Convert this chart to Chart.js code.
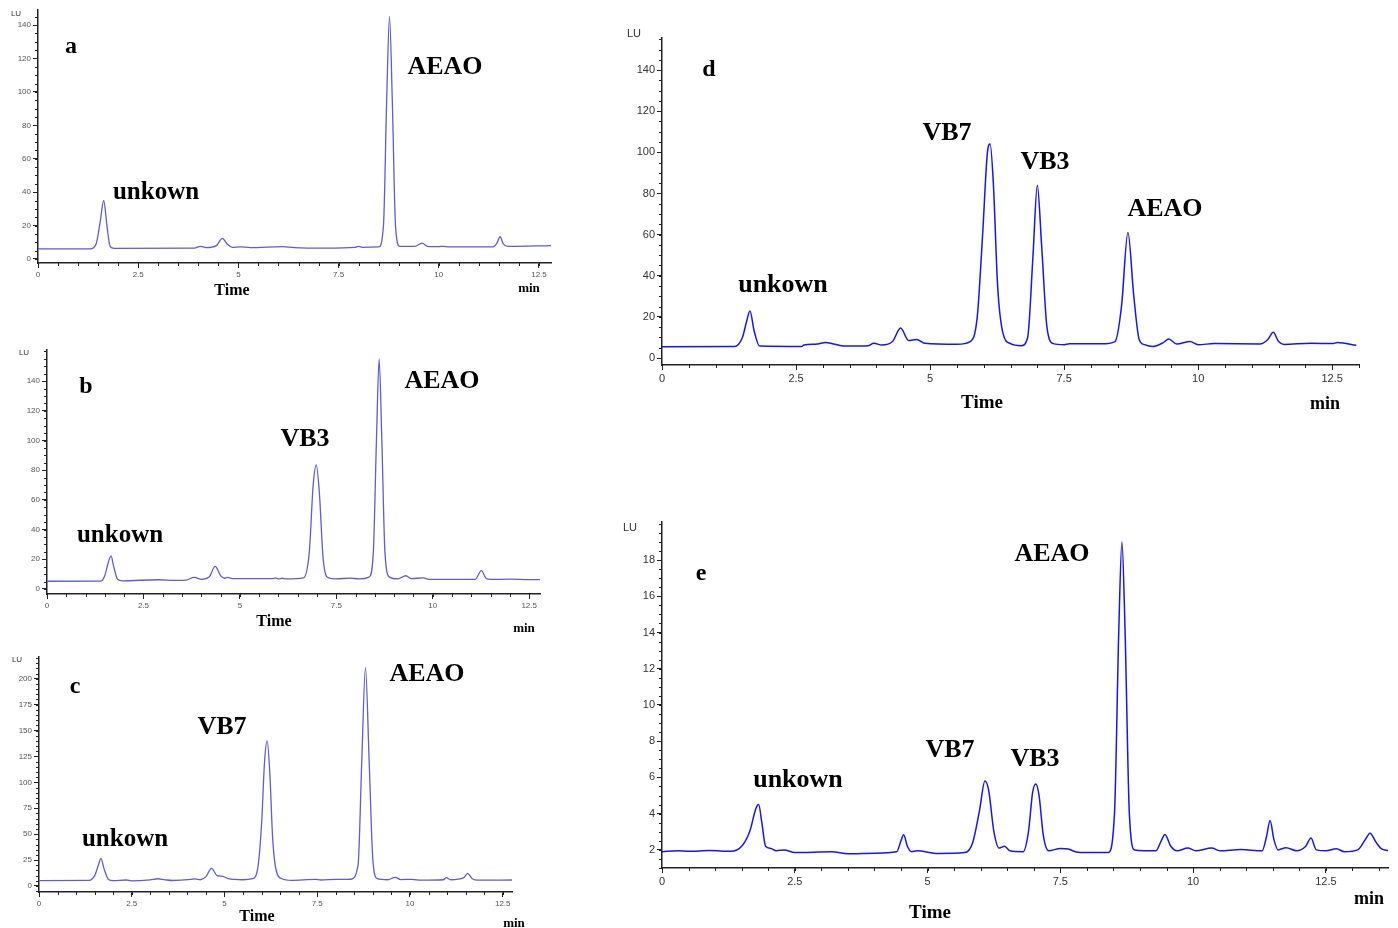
<!DOCTYPE html>
<html>
<head>
<meta charset="utf-8">
<script src="https://cdn.jsdelivr.net/npm/chart.js@4.4.0/dist/chart.umd.min.js"></script>
<style>
body{margin:0;background:#fff;width:1398px;height:928px;position:relative;overflow:hidden}
canvas{position:absolute}
.lbl{position:absolute;transform:translate(-50%,-50%);font-family:'Liberation Serif','Times New Roman',serif;font-weight:bold;white-space:nowrap;line-height:1;color:#000}
.lu{position:absolute;transform:translate(-50%,-50%);font-family:'Liberation Sans',Arial,sans-serif;line-height:1;color:#333}
</style>
</head>
<body>
<canvas id="chartA" width="560" height="300" style="left:0;top:0"></canvas>
<canvas id="chartB" width="560" height="300" style="left:0;top:330px"></canvas>
<canvas id="chartC" width="540" height="288" style="left:0;top:640px"></canvas>
<canvas id="chartD" width="798" height="400" style="left:600px;top:20px"></canvas>
<canvas id="chartE" width="798" height="428" style="left:600px;top:500px"></canvas>

<!-- panel a -->
<div class="lu" style="left:16px;top:14px;font-size:8px">LU</div>
<div class="lbl" style="left:71px;top:45px;font-size:24px">a</div>
<div class="lbl" style="left:156px;top:190px;font-size:25px">unkown</div>
<div class="lbl" style="left:445px;top:66px;font-size:26px">AEAO</div>
<div class="lbl" style="left:232px;top:290px;font-size:16px">Time</div>
<div class="lbl" style="left:529px;top:287px;font-size:13px">min</div>
<!-- panel b -->
<div class="lu" style="left:24px;top:353px;font-size:8px">LU</div>
<div class="lbl" style="left:86px;top:385px;font-size:24px">b</div>
<div class="lbl" style="left:120px;top:533px;font-size:25px">unkown</div>
<div class="lbl" style="left:305px;top:438px;font-size:26px">VB3</div>
<div class="lbl" style="left:442px;top:380px;font-size:26px">AEAO</div>
<div class="lbl" style="left:274px;top:621px;font-size:16px">Time</div>
<div class="lbl" style="left:524px;top:627px;font-size:13px">min</div>
<!-- panel c -->
<div class="lu" style="left:17px;top:660px;font-size:8px">LU</div>
<div class="lbl" style="left:75px;top:685px;font-size:24px">c</div>
<div class="lbl" style="left:125px;top:837px;font-size:25px">unkown</div>
<div class="lbl" style="left:222px;top:726px;font-size:26px">VB7</div>
<div class="lbl" style="left:427px;top:673px;font-size:26px">AEAO</div>
<div class="lbl" style="left:257px;top:916px;font-size:16px">Time</div>
<div class="lbl" style="left:514px;top:922px;font-size:13px">min</div>
<!-- panel d -->
<div class="lu" style="left:634px;top:33px;font-size:11px">LU</div>
<div class="lbl" style="left:709px;top:68px;font-size:24px">d</div>
<div class="lbl" style="left:783px;top:284px;font-size:26px">unkown</div>
<div class="lbl" style="left:947px;top:132px;font-size:26px">VB7</div>
<div class="lbl" style="left:1045px;top:161px;font-size:26px">VB3</div>
<div class="lbl" style="left:1165px;top:208px;font-size:26px">AEAO</div>
<div class="lbl" style="left:982px;top:401px;font-size:19px">Time</div>
<div class="lbl" style="left:1325px;top:403px;font-size:18px">min</div>
<!-- panel e -->
<div class="lu" style="left:630px;top:527px;font-size:11px">LU</div>
<div class="lbl" style="left:701px;top:572px;font-size:24px">e</div>
<div class="lbl" style="left:798px;top:779px;font-size:26px">unkown</div>
<div class="lbl" style="left:950px;top:749px;font-size:26px">VB7</div>
<div class="lbl" style="left:1035px;top:758px;font-size:26px">VB3</div>
<div class="lbl" style="left:1052px;top:553px;font-size:26px">AEAO</div>
<div class="lbl" style="left:930px;top:911px;font-size:19px">Time</div>
<div class="lbl" style="left:1369px;top:898px;font-size:18px">min</div>

<script>
// retention time (min) and fluorescence signal (LU)
const timeA = [0, 1.3, 1.45, 1.55, 1.64, 1.72, 1.8, 1.9, 3.9, 4.05, 4.2, 4.45, 4.6, 4.72, 4.85, 5.05, 5.3, 6.1, 6.4, 7.2, 7.9, 8.0, 8.1, 8.5, 8.62, 8.7, 8.77, 8.84, 8.92, 9.02, 9.4, 9.58, 9.72, 10.0, 10.12, 10.25, 11.35, 11.45, 11.53, 11.61, 11.72, 12.8]
const signalA = [6, 6.1, 9, 22, 35, 20, 7.5, 6.3, 6.5, 7.6, 6.8, 8, 12.3, 9, 7, 7.3, 6.8, 7.4, 6.8, 6.5, 6.9, 7.5, 7, 7.2, 20, 95, 145, 95, 20, 7.6, 7.5, 9.5, 7.6, 7.4, 7.6, 7.2, 7.3, 9.5, 13.3, 9, 7.5, 8]

const timeB = [0, 1.4, 1.5, 1.58, 1.66, 1.73, 1.83, 1.95, 2.9, 3.3, 3.6, 3.82, 4.0, 4.2, 4.36, 4.5, 4.6, 4.68, 4.8, 5.85, 5.92, 6.0, 6.1, 6.2, 6.65, 6.8, 6.9, 6.98, 7.06, 7.16, 7.3, 7.5, 7.85, 8.1, 8.35, 8.46, 8.54, 8.61, 8.68, 8.76, 8.88, 9.1, 9.3, 9.45, 9.75, 9.9, 10.2, 11.1, 11.26, 11.38, 11.5, 12.0, 12.5, 12.78]
const signalB = [5.2, 5.3, 9, 17, 22.3, 15, 6.5, 5.5, 6.2, 5.8, 6, 7.8, 6.5, 8, 15.2, 9, 7.2, 7.8, 7, 7, 7.4, 6.8, 7.2, 6.8, 7.5, 25, 70, 83.5, 65, 20, 7.5, 6.8, 7.3, 6.8, 8, 25, 100, 155, 100, 25, 8, 6.8, 8.9, 7, 7.4, 6.5, 6.4, 6.5, 12.3, 7.2, 6.4, 6.6, 6.3, 6.3]

const timeC = [0, 1.35, 1.5, 1.6, 1.67, 1.75, 1.88, 2.0, 2.35, 2.5, 3.0, 3.2, 3.4, 3.6, 4.1, 4.2, 4.35, 4.5, 4.65, 4.8, 4.96, 5.1, 5.5, 5.75, 5.9, 6.0, 6.08, 6.15, 6.22, 6.3, 6.4, 6.55, 6.8, 7.45, 7.6, 8.0, 8.4, 8.6, 8.7, 8.8, 8.9, 9.0, 9.12, 9.4, 9.6, 9.75, 10.05, 10.3, 10.9, 10.98, 11.1, 11.45, 11.55, 11.68, 11.85, 12.75]
const signalC = [5.2, 5.4, 10, 20, 26.7, 17, 6, 5.2, 5.8, 5, 6, 7, 6, 5.3, 6.3, 6.8, 6, 9, 17, 10, 9.3, 7, 6, 7, 18, 60, 120, 140, 110, 45, 14, 7, 5.5, 6.4, 5.8, 6.4, 6.5, 20, 120, 211, 120, 25, 7, 6, 8.4, 6.2, 6.4, 5.6, 6, 8, 6, 8, 12.2, 7, 5.6, 5.8]

const timeD = [0, 1.35, 1.5, 1.58, 1.64, 1.72, 1.82, 2.6, 2.65, 2.9, 3.05, 3.2, 3.4, 3.85, 3.95, 4.1, 4.3, 4.45, 4.6, 4.75, 4.9, 5.5, 5.75, 5.88, 5.98, 6.07, 6.12, 6.18, 6.26, 6.36, 6.5, 6.7, 6.82, 6.92, 7.0, 7.08, 7.18, 7.3, 7.5, 7.6, 8.2, 8.45, 8.57, 8.69, 8.8, 8.9, 9.0, 9.15, 9.35, 9.45, 9.6, 9.85, 10.0, 10.3, 11.15, 11.3, 11.4, 11.5, 11.6, 12.1, 12.5, 12.6, 12.95]
const signalD = [5.5, 5.6, 10, 18, 22.8, 13, 5.8, 5.6, 6.3, 6.8, 7.6, 6.8, 5.8, 6, 7.2, 6.3, 8, 14.6, 8.5, 9, 7.2, 6.7, 8, 20, 60, 100, 104, 85, 35, 12, 7, 6, 10, 50, 84, 55, 15, 7, 6.5, 6.9, 6.9, 8, 25, 61, 30, 9, 6.5, 5.6, 7.5, 9.2, 6.8, 8, 6.5, 7, 6.8, 9, 12.5, 8, 6.6, 7.2, 7.0, 7.5, 6.2]

const timeE = [0, 0.3, 0.5, 0.9, 1.3, 1.5, 1.65, 1.77, 1.82, 1.88, 1.95, 2.05, 2.15, 2.3, 2.5, 3.2, 3.5, 4.0, 4.42, 4.5, 4.55, 4.62, 4.7, 4.8, 5.2, 5.7, 5.85, 5.98, 6.08, 6.15, 6.25, 6.35, 6.45, 6.55, 6.8, 6.9, 6.98, 7.04, 7.1, 7.18, 7.28, 7.5, 7.65, 7.8, 8.0, 8.4, 8.52, 8.6, 8.66, 8.72, 8.8, 8.9, 9.3, 9.4, 9.47, 9.58, 9.7, 9.9, 10.05, 10.35, 10.5, 10.9, 11.3, 11.38, 11.45, 11.52, 11.6, 11.75, 11.95, 12.12, 12.22, 12.32, 12.5, 12.7, 12.85, 13.1, 13.25, 13.33, 13.45, 13.55, 13.67]
const signalE = [1.9, 1.95, 1.92, 1.97, 1.92, 2.2, 3.0, 4.3, 4.5, 3.5, 2.2, 2.08, 1.95, 2.0, 1.85, 1.9, 1.78, 1.82, 1.9, 2.5, 2.83, 2.2, 1.9, 1.95, 1.8, 1.85, 2.4, 4.2, 5.8, 5.3, 3.0, 2.1, 2.2, 1.95, 1.9, 3.0, 5.2, 5.64, 5.0, 2.8, 1.95, 2.08, 2.05, 1.88, 1.85, 1.85, 4, 14, 19, 14, 4, 2, 1.95, 2.5, 2.85, 2.2, 1.95, 2.1, 1.95, 2.1, 1.95, 2.02, 1.95, 2.7, 3.62, 2.6, 2.0, 2.12, 1.95, 2.2, 2.65, 2.0, 1.95, 2.06, 1.9, 2.0, 2.6, 2.92, 2.4, 2.05, 1.97]

// tick labels
const timeTicks = [0, 2.5, 5, 7.5, 10, 12.5]
const luTicks = [0, 20, 40, 60, 80, 100, 120, 140]
const luTicksC = [0, 25, 50, 75, 100, 125, 150, 175, 200]
const luTicksE = [2, 4, 6, 8, 10, 12, 14, 16, 18]

// small unlabelled ticks between the labelled ones
const minorTicks = {
  id: 'minorTicks',
  afterDraw(chart, args, opts) {
    const ctx = chart.ctx, area = chart.chartArea
    const xs = chart.scales.x, ys = chart.scales.y
    ctx.save()
    ctx.strokeStyle = '#222'
    ctx.lineWidth = 1
    ctx.beginPath()
    for (let i = Math.ceil(xs.min / opts.x); i * opts.x <= xs.max + 1e-9; i++) {
      const px = Math.round(xs.getPixelForValue(i * opts.x)) + 0.5
      ctx.moveTo(px, area.bottom)
      ctx.lineTo(px, area.bottom + 3)
    }
    for (let i = Math.ceil(ys.min / opts.y); i * opts.y <= ys.max + 1e-9; i++) {
      const py = Math.round(ys.getPixelForValue(i * opts.y)) + 0.5
      ctx.moveTo(area.left - 3, py)
      ctx.lineTo(area.left, py)
    }
    ctx.stroke()
    ctx.restore()
  }
}

function makeChart(id, times, signal, cfg) {
  const points = times.map((t, i) => ({x: t, y: signal[i]}))
  const tickFont = {family: "'Liberation Sans', Arial, sans-serif", size: cfg.tickSize}
  new Chart(document.getElementById(id), {
    type: 'line',
    data: {datasets: [{
      data: points,
      borderColor: cfg.color,
      borderWidth: cfg.lineWidth,
      pointRadius: 0,
      cubicInterpolationMode: 'monotone',
      fill: false
    }]},
    options: {
      responsive: false,
      animation: false,
      events: [],
      layout: {padding: cfg.pad},
      plugins: {
        legend: {display: false},
        tooltip: {enabled: false},
        minorTicks: {x: 0.5, y: cfg.yMinor}
      },
      scales: {
        x: {
          type: 'linear', min: 0, max: cfg.xMax,
          afterBuildTicks: s => { s.ticks = timeTicks.map(v => ({value: v})) },
          afterFit: s => { s.height = cfg.xH },
          border: {color: '#222', width: 1.5},
          grid: {drawOnChartArea: false, tickLength: 5, tickColor: '#222'},
          ticks: {autoSkip: false, maxRotation: 0, padding: 2, color: cfg.tickColor, font: tickFont,
                  callback: v => String(v)}
        },
        y: {
          type: 'linear', min: cfg.yMin, max: cfg.yMax,
          afterBuildTicks: s => { s.ticks = cfg.yTicks.map(v => ({value: v})) },
          afterFit: s => { s.width = cfg.yW },
          border: {color: '#222', width: 1.5},
          grid: {drawOnChartArea: false, tickLength: 5, tickColor: '#222'},
          ticks: {autoSkip: false, padding: 2, color: cfg.tickColor, font: tickFont,
                  callback: v => String(v)}
        }
      }
    },
    plugins: [minorTicks]
  })
}

const paleBlue = '#5c5cdc'
const blue = '#1414ff'

makeChart('chartA', timeA, signalA, {
  color: paleBlue, lineWidth: 1.3, tickSize: 8, tickColor: '#555',
  pad: {left: 0, top: 10, right: 9, bottom: 0}, yW: 38, xH: 37,
  xMax: 12.8, yMin: -2.4, yMax: 149, yTicks: luTicks, yMinor: 5
})
makeChart('chartB', timeB, signalB, {
  color: paleBlue, lineWidth: 1.3, tickSize: 8, tickColor: '#555',
  pad: {left: 0, top: 20, right: 20, bottom: 0}, yW: 47, xH: 36,
  xMax: 12.78, yMin: -3.4, yMax: 161, yTicks: luTicks, yMinor: 5
})
makeChart('chartC', timeC, signalC, {
  color: paleBlue, lineWidth: 1.3, tickSize: 8, tickColor: '#555',
  pad: {left: 0, top: 17, right: 28, bottom: 0}, yW: 39, xH: 36,
  xMax: 12.75, yMin: -5.8, yMax: 221, yTicks: luTicksC, yMinor: 5
})
makeChart('chartD', timeD, signalD, {
  color: blue, lineWidth: 1.5, tickSize: 11, tickColor: '#333',
  pad: {left: 0, top: 18, right: 39, bottom: 0}, yW: 62, xH: 55,
  xMax: 13.0, yMin: -3.4, yMax: 155.6, yTicks: luTicks, yMinor: 5
})
makeChart('chartE', timeE, signalE, {
  color: blue, lineWidth: 1.5, tickSize: 11, tickColor: '#333',
  pad: {left: 0, top: 22, right: 10, bottom: 0}, yW: 62, xH: 60,
  xMax: 13.67, yMin: 1.0, yMax: 20.1, yTicks: luTicksE, yMinor: 0.5
})
</script>
</body>
</html>
